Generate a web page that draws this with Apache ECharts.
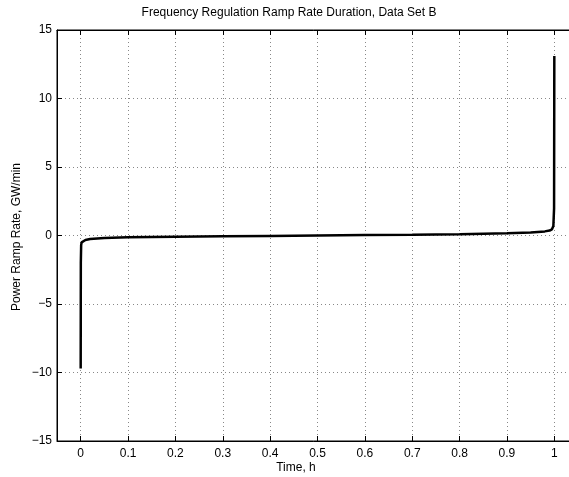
<!DOCTYPE html>
<html>
<head>
<meta charset="utf-8">
<script src="https://cdn.jsdelivr.net/npm/echarts@6/dist/echarts.min.js"></script>
<style>html,body{margin:0;padding:0;background:#fff}#c{width:569px;height:477px}</style>
</head>
<body>
<div id="c"></div>
<script>
const titleText = "Frequency Regulation Ramp Rate Duration, Data Set B";
const xLabel = "Time, h";
const yLabel = "Power Ramp Rate, GW/min";
const xTicks = [0, 0.1, 0.2, 0.3, 0.4, 0.5, 0.6, 0.7, 0.8, 0.9, 1];
const yTicks = [-15, -10, -5, 0, 5, 10, 15];
const durX = [0, 0.0003, 0.001, 0.002, 0.005, 0.01, 0.02, 0.05, 0.1, 0.2, 0.3, 0.4, 0.5, 0.6, 0.7, 0.8, 0.9, 0.95, 0.98, 0.99, 0.995, 0.998, 0.9995, 1];
const rampY = [-9.7, -2.0, -0.7, -0.5, -0.4, -0.33, -0.26, -0.18, -0.13, -0.09, -0.06, -0.03, 0, 0.03, 0.06, 0.1, 0.16, 0.22, 0.3, 0.36, 0.45, 0.7, 2.0, 13.1];

const FONT = "Liberation Sans, Arial, Helvetica, sans-serif";
const chart = echarts.init(document.getElementById('c'), null, {renderer: 'canvas'});
const fmt = v => String(v).replace('-', '\u2212');
chart.setOption({
  animation: false,
  backgroundColor: '#fff',
  grid: {left: 57, top: 30, width: 521, height: 411, show: true, borderColor: '#000', borderWidth: 1, containLabel: false, outerBoundsMode: 'none'},
  xAxis: [{
    type: 'value', min: -0.05, max: 1.05,
    axisLine: {show: true, onZero: false, lineStyle: {color: '#000', width: 1}},
    axisTick: {show: true, inside: true, length: 5, customValues: xTicks, lineStyle: {color: '#000'}},
    axisLabel: {customValues: xTicks, color: '#000', fontFamily: FONT, fontSize: 12, margin: 7, formatter: fmt},
    splitLine: {show: true, lineStyle: {color: '#888', type: [1, 3], width: 1}}
  }, {
    type: 'value', min: -0.05, max: 1.05, position: 'top',
    axisLine: {show: true, onZero: false, lineStyle: {color: '#000', width: 1}},
    axisTick: {show: true, inside: true, length: 5, customValues: xTicks, lineStyle: {color: '#000'}},
    axisLabel: {show: false},
    splitLine: {show: false}
  }],
  yAxis: [{
    type: 'value', min: -15, max: 15, interval: 5,
    axisLine: {show: true, onZero: false, lineStyle: {color: '#000', width: 1}},
    axisTick: {show: true, inside: true, length: 5, lineStyle: {color: '#000'}},
    axisLabel: {color: '#000', fontFamily: FONT, fontSize: 12, margin: 5, formatter: fmt},
    splitLine: {show: true, lineStyle: {color: '#888', type: [1, 3], width: 1}}
  }],
  graphic: [
    {type: 'text', x: 289, y: 7, style: {text: titleText, font: '12px ' + FONT, fill: '#000', textAlign: 'center', textVerticalAlign: 'top'}},
    {type: 'text', x: 296, y: 462, style: {text: xLabel, font: '12px ' + FONT, fill: '#000', textAlign: 'center', textVerticalAlign: 'top'}},
    {type: 'text', x: 17, y: 237, rotation: Math.PI / 2, style: {text: yLabel, font: '12px ' + FONT, fill: '#000', textAlign: 'center', textVerticalAlign: 'middle'}}
  ],
  series: [{
    type: 'line', xAxisIndex: 0, yAxisIndex: 0,
    data: durX.map((x, i) => [x, rampY[i]]),
    showSymbol: false, smooth: false,
    lineStyle: {color: '#000', width: 2.5}
  }]
});
</script>
</body>
</html>
